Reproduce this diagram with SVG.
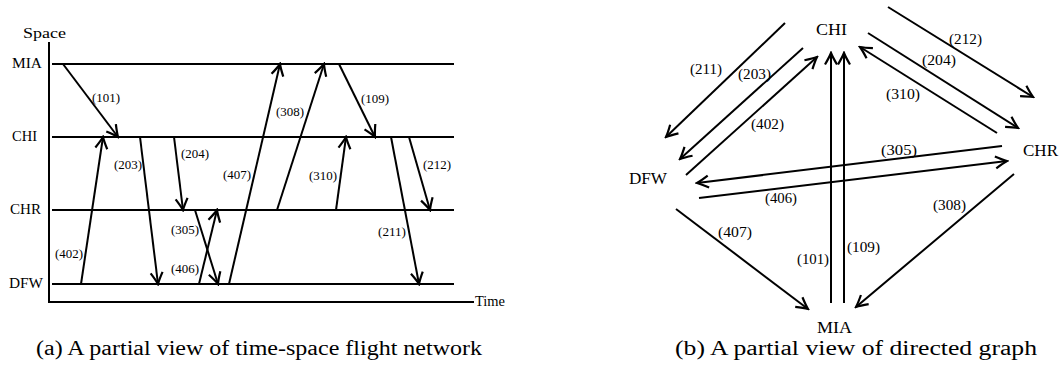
<svg xmlns="http://www.w3.org/2000/svg" width="1062" height="372" viewBox="0 0 1062 372">
<style>
text{font-family:"Liberation Serif","Times New Roman",serif;fill:#000}
.n{font-size:14px}
.ln{font-size:13px}
.rn{font-size:16px}
.rl{font-size:14.5px}
.cap{font-size:20px}
.ax{stroke:#000;stroke-width:2;fill:none}
.e{stroke:#000;stroke-width:2;fill:none;marker-end:url(#ah)}
.p{stroke:#000;stroke-width:2;fill:none}
</style>
<defs>
<marker id="ah" markerUnits="userSpaceOnUse" viewBox="-14 -8 16 16" markerWidth="16" markerHeight="16" refX="0" refY="0" orient="auto">
<path d="M-11.5,-6 Q-4,-1.6 0,0 Q-4,1.6 -11.5,6" fill="none" stroke="#000" stroke-width="2.2"/>
</marker>
</defs>
<rect width="1062" height="372" fill="#fff"/>
<g id="panel-a">
<g id="axes">
<line class="ax" x1="49" y1="42" x2="49" y2="302"/>
<line class="ax" x1="48" y1="302" x2="474" y2="302"/>
<text class="n" x="23" y="38" textLength="43" lengthAdjust="spacingAndGlyphs">Space</text>
<text class="n" x="475" y="306" textLength="30" lengthAdjust="spacingAndGlyphs">Time</text>
</g>
<g id="a-MIA"><line class="p" x1="52" y1="64" x2="454" y2="64"/><text class="n" x="12" y="68" textLength="30" lengthAdjust="spacingAndGlyphs">MIA</text></g>
<g id="a-CHI"><line class="p" x1="52" y1="137" x2="454" y2="137"/><text class="n" x="12" y="141" textLength="25" lengthAdjust="spacingAndGlyphs">CHI</text></g>
<g id="a-CHR"><line class="p" x1="52" y1="210" x2="454" y2="210"/><text class="n" x="10" y="214" textLength="31" lengthAdjust="spacingAndGlyphs">CHR</text></g>
<g id="a-DFW"><line class="p" x1="52" y1="284" x2="454" y2="284"/><text class="n" x="9" y="288" textLength="34" lengthAdjust="spacingAndGlyphs">DFW</text></g>
<g id="a-connectors">
<line class="e" x1="63" y1="64" x2="118" y2="137"/>
<line class="e" x1="81" y1="284" x2="103" y2="137"/>
<line class="e" x1="140" y1="137" x2="158" y2="284"/>
<line class="e" x1="174" y1="137" x2="183" y2="210"/>
<line class="e" x1="195" y1="210" x2="218" y2="284"/>
<line class="e" x1="199" y1="284" x2="217" y2="210"/>
<line class="e" x1="229" y1="284" x2="280" y2="64"/>
<line class="e" x1="277" y1="210" x2="324" y2="64"/>
<line class="e" x1="339" y1="64" x2="375" y2="137"/>
<line class="e" x1="336" y1="210" x2="346" y2="137"/>
<line class="e" x1="391" y1="137" x2="419" y2="284"/>
<line class="e" x1="409" y1="137" x2="430" y2="210"/>
<text class="ln" x="92" y="102" textLength="28" lengthAdjust="spacingAndGlyphs">(101)</text>
<text class="ln" x="55" y="258" textLength="28" lengthAdjust="spacingAndGlyphs">(402)</text>
<text class="ln" x="114" y="169" textLength="28" lengthAdjust="spacingAndGlyphs">(203)</text>
<text class="ln" x="181" y="158" textLength="28" lengthAdjust="spacingAndGlyphs">(204)</text>
<text class="ln" x="171" y="234" textLength="28" lengthAdjust="spacingAndGlyphs">(305)</text>
<text class="ln" x="171" y="273" textLength="28" lengthAdjust="spacingAndGlyphs">(406)</text>
<text class="ln" x="223" y="179" textLength="28" lengthAdjust="spacingAndGlyphs">(407)</text>
<text class="ln" x="276" y="116" textLength="28" lengthAdjust="spacingAndGlyphs">(308)</text>
<text class="ln" x="361" y="103" textLength="28" lengthAdjust="spacingAndGlyphs">(109)</text>
<text class="ln" x="309" y="180" textLength="28" lengthAdjust="spacingAndGlyphs">(310)</text>
<text class="ln" x="378" y="236" textLength="28" lengthAdjust="spacingAndGlyphs">(211)</text>
<text class="ln" x="423" y="169" textLength="28" lengthAdjust="spacingAndGlyphs">(212)</text>
</g>
<text class="cap" x="36" y="355" textLength="446" lengthAdjust="spacingAndGlyphs">(a) A partial view of time-space flight network</text>
</g>
<g id="panel-b">
<g id="CHI"><text class="rn" x="816" y="35" textLength="31" lengthAdjust="spacingAndGlyphs">CHI</text></g>
<g id="DFW"><text class="rn" x="629" y="184" textLength="38" lengthAdjust="spacingAndGlyphs">DFW</text></g>
<g id="CHR"><text class="rn" x="1023" y="156" textLength="35" lengthAdjust="spacingAndGlyphs">CHR</text></g>
<g id="MIA"><text class="rn" x="817" y="333" textLength="35" lengthAdjust="spacingAndGlyphs">MIA</text></g>
<g id="b-connectors">
<line class="e" x1="785" y1="23" x2="666" y2="137"/>
<line class="e" x1="803" y1="48" x2="680" y2="159"/>
<line class="e" x1="686" y1="175" x2="817" y2="57"/>
<line class="e" x1="831" y1="303" x2="831" y2="53"/>
<line class="e" x1="844" y1="303" x2="844" y2="53"/>
<line class="e" x1="888" y1="7" x2="1033" y2="97"/>
<line class="e" x1="868" y1="33" x2="1018" y2="128"/>
<line class="e" x1="997" y1="133" x2="860" y2="47"/>
<line class="e" x1="1002" y1="146" x2="697" y2="183"/>
<line class="e" x1="699" y1="198" x2="1007" y2="161"/>
<line class="e" x1="676" y1="209" x2="808" y2="309"/>
<line class="e" x1="1014" y1="174" x2="856" y2="307"/>
<text class="rl" x="690" y="74" textLength="32" lengthAdjust="spacingAndGlyphs">(211)</text>
<text class="rl" x="738" y="79" textLength="33" lengthAdjust="spacingAndGlyphs">(203)</text>
<text class="rl" x="751" y="129" textLength="33" lengthAdjust="spacingAndGlyphs">(402)</text>
<text class="rl" x="797" y="264" textLength="32" lengthAdjust="spacingAndGlyphs">(101)</text>
<text class="rl" x="847" y="252" textLength="33" lengthAdjust="spacingAndGlyphs">(109)</text>
<text class="rl" x="949" y="44" textLength="33" lengthAdjust="spacingAndGlyphs">(212)</text>
<text class="rl" x="922" y="65" textLength="34" lengthAdjust="spacingAndGlyphs">(204)</text>
<text class="rl" x="886" y="99" textLength="34" lengthAdjust="spacingAndGlyphs">(310)</text>
<text class="rl" x="881" y="155" textLength="36" lengthAdjust="spacingAndGlyphs">(305)</text>
<text class="rl" x="765" y="203" textLength="32" lengthAdjust="spacingAndGlyphs">(406)</text>
<text class="rl" x="718" y="237" textLength="34" lengthAdjust="spacingAndGlyphs">(407)</text>
<text class="rl" x="933" y="210" textLength="33" lengthAdjust="spacingAndGlyphs">(308)</text>
</g>
<text class="cap" x="675" y="355" textLength="362" lengthAdjust="spacingAndGlyphs">(b) A partial view of directed graph</text>
</g>
</svg>
